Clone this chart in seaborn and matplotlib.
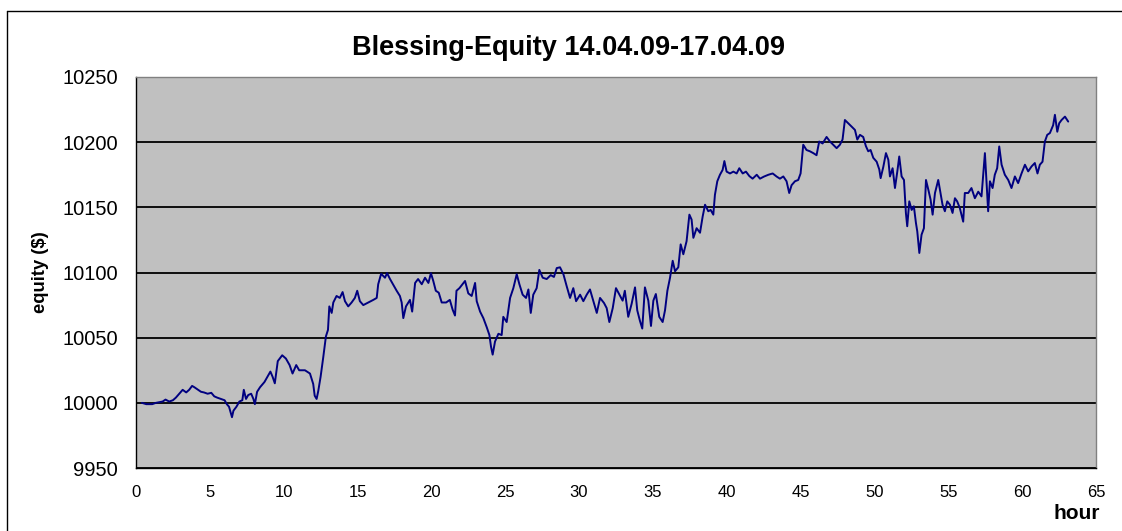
import matplotlib
matplotlib.use("Agg")
import matplotlib.pyplot as plt
import seaborn as sns
import pandas as pd
from matplotlib.lines import Line2D

# equity curve (hour, $)
hours = [
    0.4, 0.7, 1.1, 1.35, 1.8, 2.0, 2.25, 2.5, 2.7, 2.93, 3.16, 3.4, 3.6, 3.8, 3.95,
    4.2, 4.4, 4.6, 4.85, 5.1, 5.3, 5.5, 5.75, 6.0, 6.15, 6.3, 6.5, 6.6, 6.8, 7.0,
    7.2, 7.3, 7.45, 7.6, 7.8, 7.95, 8.05, 8.2, 8.4, 8.7, 8.9, 9.1, 9.25, 9.4, 9.6,
    9.9, 10.15, 10.4, 10.6, 10.85, 11.05,
    11.44, 11.78, 12.0, 12.1, 12.23, 12.34, 12.5, 12.68, 12.86, 13.0, 13.09, 13.25,
    13.36, 13.58, 13.8, 13.99, 14.15, 14.37, 14.6, 14.82, 14.98, 15.16, 15.39, 15.73,
    16.07, 16.3, 16.4, 16.6, 16.86, 17.0, 17.2, 17.4, 17.65, 17.87, 17.99, 18.1,
    18.28, 18.55, 18.7, 18.9, 19.1, 19.35, 19.57, 19.8, 19.97, 20.13, 20.3, 20.5,
    20.7, 21.0, 21.25, 21.44, 21.6, 21.7, 21.9,
    22.28, 22.5, 22.73, 22.96, 23.07, 23.3, 23.52, 23.75, 23.93, 24.04, 24.15, 24.31,
    24.54, 24.76, 24.87, 25.1, 25.33, 25.55, 25.78, 25.96, 26.18, 26.41, 26.57, 26.73,
    26.9, 27.13, 27.31, 27.54, 27.81, 28.08, 28.3, 28.49, 28.71, 28.94, 29.16, 29.39,
    29.61, 29.8, 30.07, 30.29, 30.52, 30.74, 30.97, 31.2, 31.42, 31.69, 31.87, 32.05,
    32.28, 32.5, 32.73,
    32.95, 33.1, 33.33, 33.56, 33.79, 33.94, 34.12, 34.28, 34.46, 34.69, 34.87, 35.03,
    35.2, 35.43, 35.66, 35.82, 35.98, 36.16, 36.34, 36.5, 36.72, 36.88, 37.06, 37.28,
    37.47, 37.62, 37.74, 37.96, 38.19, 38.37, 38.53, 38.75, 38.91, 39.09, 39.2, 39.36,
    39.54, 39.72, 39.84, 39.99, 40.22, 40.45, 40.67, 40.85, 41.08, 41.3, 41.53, 41.75,
    42.03, 42.25, 42.52, 42.82, 43.11, 43.38, 43.6,
    43.83, 44.05, 44.23, 44.39, 44.62, 44.84, 45.0, 45.18, 45.4, 45.63, 45.86, 46.08,
    46.26, 46.49, 46.76, 46.99, 47.21, 47.44, 47.66, 47.84, 48.0, 48.23, 48.45, 48.68,
    48.84, 49.02, 49.24, 49.42, 49.58, 49.74, 49.92, 50.15, 50.33, 50.42, 50.6, 50.78,
    50.94, 51.05, 51.23, 51.39, 51.55, 51.68, 51.84, 52.0, 52.13, 52.22, 52.36, 52.52,
    52.67, 52.81, 52.9, 53.04, 53.19, 53.35, 53.49, 53.65, 53.8, 53.94, 54.1, 54.32,
    54.61, 54.77, 54.93, 55.11, 55.29, 55.45, 55.6, 55.78, 56.01, 56.12, 56.35, 56.57,
    56.8, 57.03, 57.25, 57.48, 57.59, 57.7, 57.82, 58.0, 58.15, 58.31, 58.45, 58.61,
    58.83, 59.06, 59.28, 59.51, 59.73, 59.96, 60.19, 60.41, 60.64, 60.86, 61.04, 61.2,
    61.38, 61.54, 61.7, 61.88, 62.1, 62.22, 62.38, 62.51, 62.67, 62.9, 63.12,
]
equity = [
    10000, 9999, 9999, 10000, 10001, 10002.5, 10001, 10002, 10004, 10007, 10010, 10008,
    10010, 10013, 10012, 10010, 10008.5, 10008, 10007, 10007.7, 10005, 10004, 10003,
    10002, 9999, 9997, 9989, 9994, 9997, 10001, 10002, 10010, 10003, 10006, 10007,
    10003, 9999, 10008.5, 10012, 10016, 10020, 10024, 10020, 10015, 10032, 10036.5,
    10034, 10029, 10022.5, 10029, 10025,
    10025, 10022.5, 10014.5, 10005.5, 10003, 10009, 10020, 10035, 10051, 10056, 10074,
    10069, 10077, 10082, 10080.5, 10085, 10078, 10074, 10077, 10080.5, 10086, 10078,
    10075, 10077, 10079, 10080.5, 10091, 10099, 10096, 10099.5, 10095, 10091, 10086,
    10082, 10077, 10065, 10074, 10079, 10070, 10092, 10095, 10091, 10096, 10092,
    10099.5, 10093.5, 10086, 10084.5, 10077, 10077, 10079, 10071.5, 10067, 10086, 10088,
    10093.5, 10084, 10082, 10092, 10078, 10070, 10065, 10058, 10052, 10043, 10037,
    10047, 10053, 10052, 10066, 10062, 10080.5, 10088, 10098.7, 10091, 10083, 10080.5,
    10087, 10069, 10083, 10088, 10102, 10096, 10095, 10098, 10096.6, 10103.4, 10104,
    10098.7, 10089.6, 10080.5, 10088, 10078, 10083, 10078, 10083, 10087, 10078, 10069,
    10080.5, 10076.6, 10072.7, 10062, 10072.7, 10088, 10083,
    10078.4, 10086, 10066, 10076, 10088.6, 10071, 10063, 10057, 10088.6, 10078.4, 10059,
    10078.4, 10083.5, 10066, 10062, 10071, 10086, 10096, 10109, 10101, 10104, 10121.6,
    10114, 10124, 10144.4, 10140.6, 10126.6, 10134, 10130.5, 10143, 10152, 10147,
    10148, 10144.4, 10159.6, 10170, 10175, 10178.7, 10185.5, 10177.4, 10176, 10177.4,
    10176, 10180, 10176, 10177.4, 10174, 10172, 10175, 10172, 10173.6, 10175, 10176,
    10173.6, 10172,
    10173.7, 10170, 10161, 10167, 10170, 10171, 10176, 10198, 10194, 10193, 10191.6,
    10190, 10200.5, 10199, 10204, 10200.5, 10198, 10195.4, 10198, 10202, 10217,
    10214.5, 10212, 10209.4, 10202, 10205.6, 10204, 10197, 10193, 10194, 10188, 10185,
    10179, 10172.4, 10181, 10191.6, 10186.5, 10173.7, 10180, 10164.8, 10177.6, 10189,
    10173.7, 10171, 10145.7, 10135.5, 10154.6, 10148, 10150.8, 10138, 10131.6, 10115,
    10129, 10134, 10171, 10163.5, 10156, 10144.4, 10161, 10171,
    10152, 10147, 10154.6, 10152, 10145.7, 10157, 10154.6, 10149.5, 10139, 10161,
    10161, 10164.8, 10157, 10162, 10158.4, 10191.6, 10168.6, 10147, 10170, 10164.8,
    10175, 10180, 10196.7, 10182.7, 10175, 10171, 10164.8, 10173.7, 10168.6, 10176,
    10182.7, 10177.6, 10181.4, 10184, 10176, 10182.7, 10185, 10200.5, 10205.6, 10207,
    10213, 10221, 10208, 10214.5, 10217, 10219.6, 10215.8,
]
x_ticks = list(range(0, 70, 5))
y_ticks = list(range(9950, 10300, 50))

df = pd.DataFrame({"hour": hours, "equity": equity})

sns.set_style("white", {"axes.facecolor": "#C0C0C0"})
plt.rcParams["font.family"] = ["Liberation Sans", "DejaVu Sans"]
plt.rcParams["text.color"] = "black"
plt.rcParams["axes.labelcolor"] = "black"
plt.rcParams["xtick.color"] = "black"
plt.rcParams["ytick.color"] = "black"

fig = plt.figure(figsize=(11.22, 5.31), dpi=100)
ax = fig.add_axes([0.1212, 0.1186, 0.8556, 0.7364])

sns.lineplot(data=df, x="hour", y="equity", ax=ax, color="#000080",
             linewidth=1.4, sort=False)

ax.set_xlim(0, 65)
ax.set_ylim(9950, 10250)
ax.set_xticks(x_ticks)
ax.set_yticks(y_ticks)
ax.tick_params(axis="x", labelsize=12, direction="out", length=5, width=1,
               pad=7)
ax.tick_params(axis="y", labelsize=14.5, direction="out", length=5, width=1,
               pad=8)
ax.grid(axis="y", color="black", linewidth=1.3)
ax.set_axisbelow(True)

for side in ["left", "bottom"]:
    ax.spines[side].set_color("black")
    ax.spines[side].set_linewidth(1)
for side in ["top", "right"]:
    ax.spines[side].set_color("#808080")
    ax.spines[side].set_linewidth(1)

fig.text(568 / 1122, 1 - 55 / 531, "Blessing-Equity 14.04.09-17.04.09",
         fontsize=19.5, fontweight="bold", ha="center", va="baseline")
ax.set_ylabel("equity ($)", fontsize=13.3, fontweight="bold")
ax.yaxis.set_label_coords(-0.0906, 0.5)
ax.set_xlabel("hour", fontsize=15, fontweight="bold", loc="right")
ax.xaxis.set_label_coords(1.004, -0.092)

# outer chart border (Excel chart area)
fig.add_artist(Line2D([7 / 1122, 7 / 1122], [0, 1 - 11 / 531], color="black",
                      linewidth=1, transform=fig.transFigure))
fig.add_artist(Line2D([7 / 1122, 1], [1 - 11 / 531, 1 - 11 / 531], color="black",
                      linewidth=1, transform=fig.transFigure))

fig.savefig("out.png", dpi=100)
